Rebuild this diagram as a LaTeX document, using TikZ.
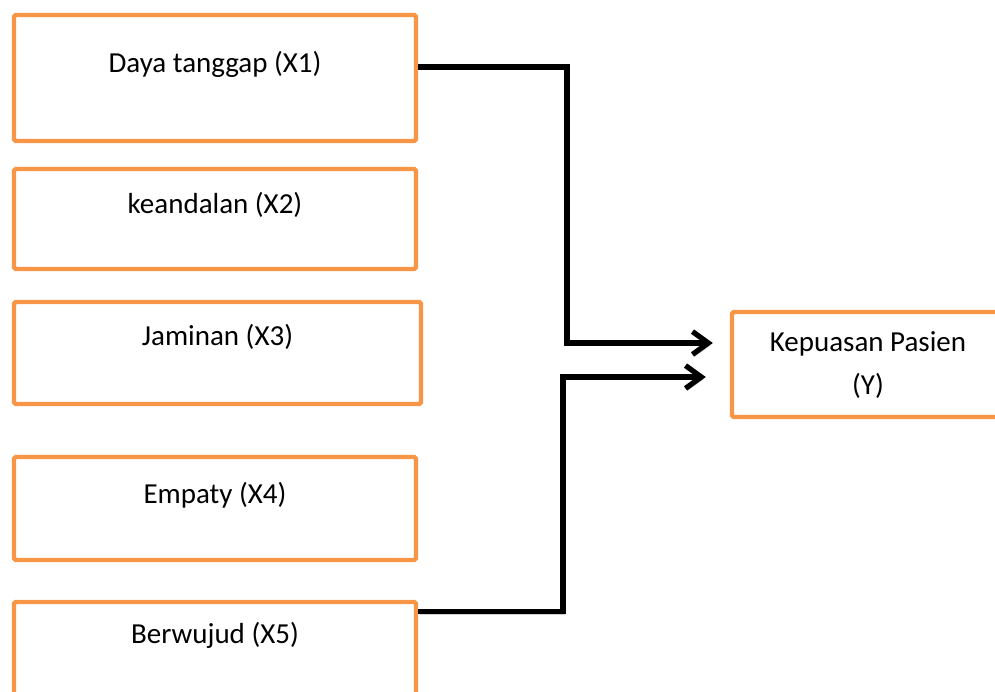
\documentclass[tikz,border=0pt]{standalone}
\usepackage{fontspec}
\setmainfont{Carlito}
\usetikzlibrary{arrows.meta}
\definecolor{orng}{HTML}{F79646}
\tikzstyle{obox}=[rectangle, draw=orng, line width=2.5pt, rounded corners=1pt, inner sep=0pt, align=center, font=\fontsize{16.5}{24.5}\selectfont, text height=12pt, text depth=18pt]
\tikzstyle{link}=[line width=3pt, -{Straight Barb[length=9pt,width=13pt]}, preaction={draw=black!18, transform canvas={xshift=1pt,yshift=-1.3pt}}]

\begin{document}
\begin{tikzpicture}
\useasboundingbox (0,0) rectangle (19.9,-13.84);

\node[obox, minimum width=8.04cm, minimum height=2.52cm] (x1) at (4.30,-1.56) {Daya tanggap (X1)};
\node[obox, minimum width=8.04cm, minimum height=2.00cm] (x2) at (4.30,-4.38) {keandalan (X2)};
\node[obox, minimum width=8.14cm, minimum height=2.04cm, text depth=21pt] (x3) at (4.35,-7.06) {Jaminan (X3)};
\node[obox, minimum width=8.04cm, minimum height=2.06cm] (x4) at (4.30,-10.17) {Empaty (X4)};
\node[obox, minimum width=8.04cm, minimum height=1.96cm, text depth=21pt] (x5) at (4.30,-13.02) {Berwujud (X5)};
\node[obox, minimum width=5.44cm, minimum height=2.10cm, text height=40.7pt, text depth=6pt] (y) at (17.36,-7.29) {Kepuasan Pasien\\(Y)};

\coordinate (k1) at (11.34,0);
\coordinate (k2) at (11.26,0);
\coordinate (e1) at ([xshift=-0.34cm,yshift=0.43cm]y.west);
\coordinate (e2) at ([xshift=-0.48cm,yshift=-0.25cm]y.west);

\draw[link] ([yshift=0.22cm]x1.east) -| (k1 |- e1) -- (e1);
\draw[link] ([yshift=-0.24cm]x5.north east) -| (k2 |- e2) -- (e2);

\end{tikzpicture}
\end{document}
